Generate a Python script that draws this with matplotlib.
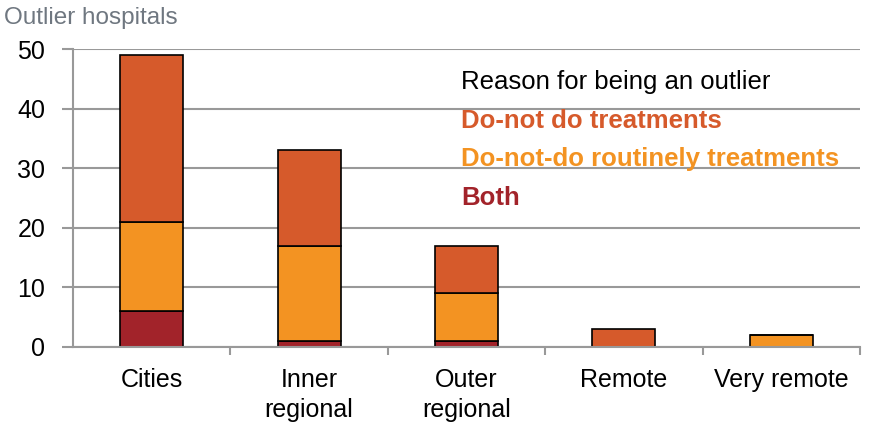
import numpy as np
import matplotlib.pyplot as plt

plt.rcParams["font.family"] = ["Liberation Sans", "DejaVu Sans"]

categories = ["Cities", "Inner\nregional", "Outer\nregional", "Remote", "Very remote"]
both = [6, 1, 1, 0, 0]
routinely = [15, 16, 8, 0, 2]
do_not = [28, 16, 8, 3, 0]

c_top = "#D65A2B"
c_mid = "#F39322"
c_bot = "#A2232A"
grey = "#999999"

fig = plt.figure(figsize=(8.7, 4.23), dpi=100)
ax = fig.add_axes([73 / 870, 1 - 347 / 423, (860 - 73) / 870, (347 - 49) / 423])

x = np.arange(len(categories))
both = np.array(both)
routinely = np.array(routinely)
do_not = np.array(do_not)
w = 0.4
kw = dict(width=w, edgecolor="black", linewidth=1.2)
ax.bar(x, both, color=c_bot, **kw)
ax.bar(x, routinely, bottom=both, color=c_mid, **kw)
ax.bar(x, do_not, bottom=both + routinely, color=c_top, **kw)

ax.set_xlim(-0.5, len(categories) - 0.5)
ax.set_ylim(0, 50)
ax.set_yticks([0, 10, 20, 30, 40, 50])
ax.yaxis.grid(True, color=grey, linewidth=1.5)
ax.set_axisbelow(True)
for s in ["top", "right"]:
    ax.spines[s].set_visible(False)
for s in ["left", "bottom"]:
    ax.spines[s].set_color(grey)
    ax.spines[s].set_linewidth(1.5)
ax.tick_params(axis="y", length=8, width=1.5, color=grey, labelsize=18, pad=12)

ax.set_xticks(x)
ax.set_xticklabels(categories, fontsize=18, va="top", linespacing=1.3)
ax.tick_params(axis="x", length=0, pad=15)
ax.set_xticks(np.arange(len(categories)) + 0.5, minor=True)
ax.tick_params(axis="x", which="minor", length=6, width=1.5, color=grey)

fig.text(4 / 870, 1 - 18 / 423, "Outlier hospitals", color="#6F7780", fontsize=17.5, va="center")

lx = 461 / 870
fs = 18.5
fig.text(lx, 1 - 82 / 423, "Reason for being an outlier", fontsize=fs, va="center")
fig.text(lx, 1 - 121 / 423, "Do-not do treatments", fontsize=fs, va="center", color=c_top, fontweight="bold")
fig.text(lx, 1 - 159 / 423, "Do-not-do routinely treatments", fontsize=fs, va="center", color=c_mid, fontweight="bold")
fig.text(lx, 1 - 198 / 423, "Both", fontsize=fs, va="center", color=c_bot, fontweight="bold")

fig.savefig("out.png", dpi=100)
